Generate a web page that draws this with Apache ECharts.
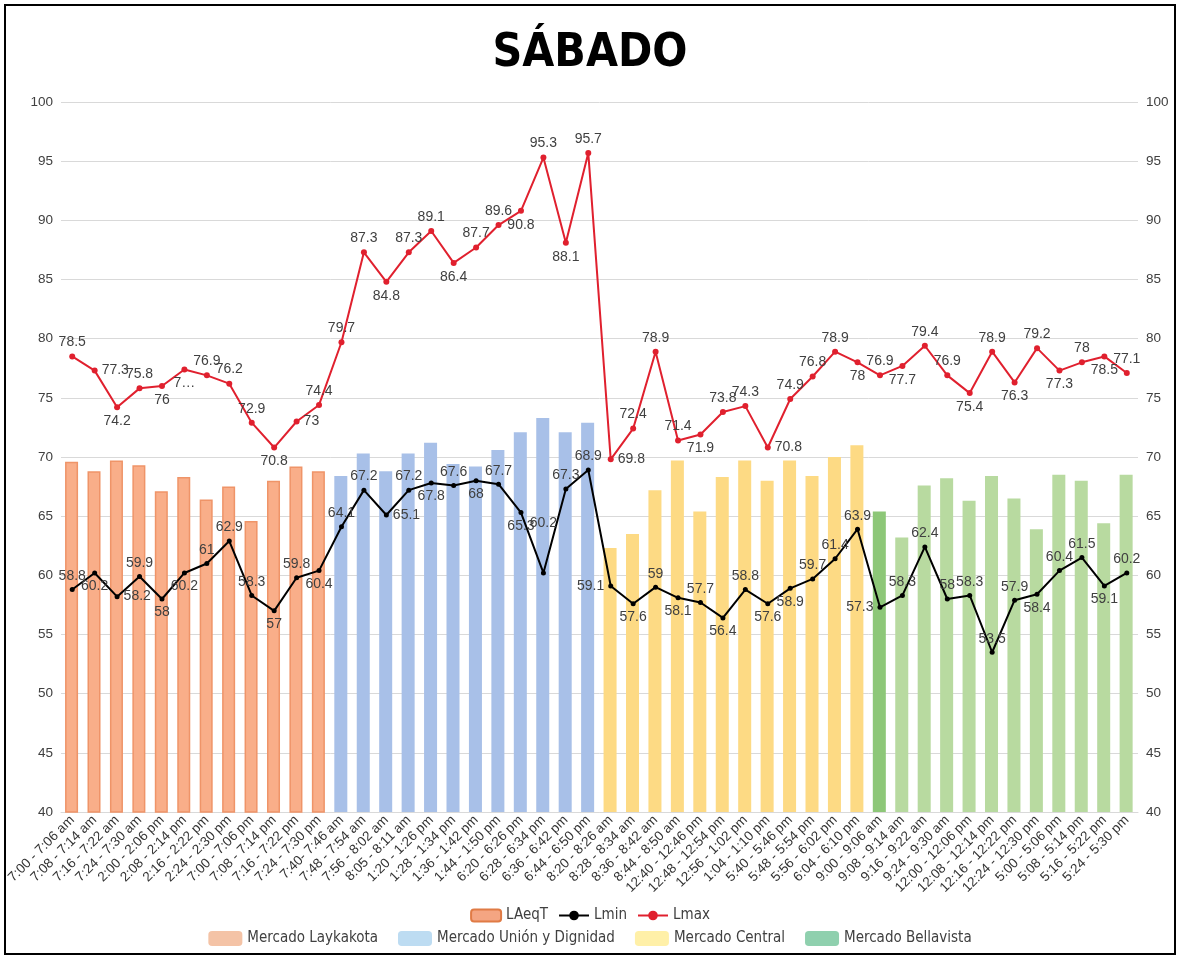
<!DOCTYPE html>
<html>
<head>
<meta charset="utf-8">
<script src="https://cdn.jsdelivr.net/npm/echarts@6/dist/echarts.min.js"></script>
<style>
html,body{margin:0;padding:0;background:#fff;}
#frame{position:absolute;left:4px;top:4px;width:1168px;height:947px;border:2px solid #000;}
#chart{position:absolute;left:0;top:0;width:1180px;height:959px;}
</style>
</head>
<body>
<div id="frame"></div>
<div id="chart"></div>
<script>
const categories = [
  '7:00 - 7:06 am','7:08 - 7:14 am','7:16 - 7:22 am','7:24 - 7:30 am','2:00 - 2:06 pm','2:08 - 2:14 pm',
  '2:16 - 2:22 pm','2:24 - 2:30 pm','7:00 - 7:06 pm','7:08 - 7:14 pm','7:16 - 7:22 pm','7:24 - 7:30 pm',
  '7:40- 7:46 am','7:48 - 7:54 am','7:56 - 8:02 am','8:05 - 8:11 am','1:20 - 1:26 pm','1:28 - 1:34 pm',
  '1:36 - 1:42 pm','1:44 - 1:50 pm','6:20 - 6:26 pm','6:28 - 6:34 pm','6:36 - 6:42 pm','6:44 - 6:50 pm',
  '8:20 - 8:26 am','8:28 - 8:34 am','8:36 - 8:42 am','8:44 - 8:50 am','12:40 - 12:46 pm','12:48 - 12:54 pm',
  '12:56 - 1:02 pm','1:04 - 1:10 pm','5:40 - 5:46 pm','5:48 - 5:54 pm','5:56 - 6:02 pm','6:04 - 6:10 pm',
  '9:00 - 9:06 am','9:08 - 9:14 am','9:16 - 9:22 am','9:24 - 9:30 am','12:00 - 12:06 pm','12:08 - 12:14 pm',
  '12:16 - 12:22 pm','12:24 - 12:30 pm','5:00 - 5:06 pm','5:08 - 5:14 pm','5:16 - 5:22 pm','5:24 - 5:30 pm'
];
const markets = ['Mercado Laykakota','Mercado Unión y Dignidad','Mercado Central','Mercado Bellavista'];
const marketSizes = [12, 12, 12, 12];
const LAeqT = [
  69.6, 68.8, 69.7, 69.3, 67.1, 68.3, 66.4, 67.5, 64.6, 68.0, 69.2, 68.8,
  68.4, 70.3, 68.8, 70.3, 71.2, 69.4, 69.2, 70.6, 72.1, 73.3, 72.1, 72.9,
  62.3, 63.5, 67.2, 69.7, 65.4, 68.3, 69.7, 68.0, 69.7, 68.4, 70.0, 71.0,
  65.4, 63.2, 67.6, 68.2, 66.3, 68.4, 66.5, 63.9, 68.5, 68.0, 64.4, 68.5
];
const Lmin = [
  58.8, 60.2, 58.2, 59.9, 58, 60.2, 61, 62.9, 58.3, 57, 59.8, 60.4,
  64.1, 67.2, 65.1, 67.2, 67.8, 67.6, 68, 67.7, 65.3, 60.2, 67.3, 68.9,
  59.1, 57.6, 59, 58.1, 57.7, 56.4, 58.8, 57.6, 58.9, 59.7, 61.4, 63.9,
  57.3, 58.3, 62.4, 58, 58.3, 53.5, 57.9, 58.4, 60.4, 61.5, 59.1, 60.2
];
const Lmax = [
  78.5, 77.3, 74.2, 75.8, 76, 77.4, 76.9, 76.2, 72.9, 70.8, 73, 74.4,
  79.7, 87.3, 84.8, 87.3, 89.1, 86.4, 87.7, 89.6, 90.8, 95.3, 88.1, 95.7,
  69.8, 72.4, 78.9, 71.4, 71.9, 73.8, 74.3, 70.8, 74.9, 76.8, 78.9, 78,
  76.9, 77.7, 79.4, 76.9, 75.4, 78.9, 76.3, 79.2, 77.3, 78, 78.5, 77.1
];
const yTicks = { min: 40, max: 100, interval: 5 };

// label placement (style)
const T='top', B='bottom', L='left', R='right';
const lmaxPos = [T,R,B,T,B,B,T,T,T,B,R,T, T,T,B,T,T,B,T,T,B,T,B,T, R,T,T,T,B,T,T,R,T,T,T,B, T,B,T,T,B,T,B,T,B,T,B,T];
const lminPos = [T,B,R,T,B,B,T,T,T,B,T,B, T,T,R,T,B,T,B,T,B,T,T,T, L,B,T,B,T,B,T,B,B,T,T,T, L,T,T,T,T,T,T,B,T,T,B,T];
const lminOffset = {21: [0, -36]};
const lmaxText = {5: '7…'};

const barFill = ['#F9AE89', '#A8C0E8', '#FDDA84', '#B8DAA0'];
const barBorder = ['#EF9468', '#A8C0E8', '#FDDA84', '#B8DAA0'];
const marketSwatch = ['#F4C3A6', '#BDDCF2', '#FFF0A8', '#8FD0AE'];
function groupOf(i){ let s=0; for(let g=0; g<marketSizes.length; g++){ s+=marketSizes[g]; if(i<s) return g; } return marketSizes.length-1; }

const FONT = 'Liberation Sans, Arial, sans-serif';
const NARROW = '"Liberation Sans Narrow", "DejaVu Sans Condensed", Arial, sans-serif';

const barData = LAeqT.map((v,i)=>{
  const g = groupOf(i);
  let fill = barFill[g];
  if (g===3 && i===36) fill = '#8DC778';
  return { value: v, itemStyle: { color: fill, borderColor: g===0 ? barBorder[g] : fill, borderWidth: g===0?1.5:0 } };
});
const lmaxData = Lmax.map((v,i)=>({ value: v, label: { position: lmaxPos[i] } }));
const lminData = Lmin.map((v,i)=>{
  const lab = { position: lminPos[i] };
  if (lminOffset[i]) lab.offset = lminOffset[i];
  return { value: v, label: lab };
});

const chart = echarts.init(document.getElementById('chart'));
const yAxisCommon = {
  type: 'value', min: yTicks.min, max: yTicks.max, interval: yTicks.interval,
  axisLine: { show: false }, axisTick: { show: false },
  axisLabel: { color: '#404040', fontSize: 13.5, fontFamily: FONT }
};
chart.setOption({
  animation: false,
  title: {
    text: 'SÁBADO', left: 'center', top: 26,
    textStyle: { fontSize: 46, fontWeight: 'bold', color: '#000', fontFamily: NARROW }
  },
  grid: { left: 61, right: 42, top: 102, bottom: 147 },
  legend: [
    {
      data: ['LAeqT','Lmin','Lmax'], top: 903, left: 'center', itemGap: 10, itemWidth: 30, itemHeight: 12,
      textStyle: { color: '#404040', fontSize: 15, fontFamily: NARROW }, selectedMode: false
    },
    {
      data: markets, top: 926, left: 'center', itemGap: 20, itemWidth: 34, itemHeight: 15,
      textStyle: { color: '#404040', fontSize: 15, fontFamily: NARROW }, selectedMode: false
    }
  ],
  xAxis: {
    type: 'category', data: categories,
    axisLine: { lineStyle: { color: '#D9D9D9' } }, axisTick: { show: false },
    axisLabel: { interval: 0, rotate: 45, color: '#333333', fontSize: 13.5, fontFamily: FONT, margin: 6 }
  },
  yAxis: [
    Object.assign({}, yAxisCommon, { position: 'left', splitLine: { lineStyle: { color: '#D9D9D9' } } }),
    Object.assign({}, yAxisCommon, { position: 'right', splitLine: { show: false } })
  ],
  series: [
    {
      name: 'LAeqT', type: 'bar', data: barData, barWidth: '58%',
      itemStyle: { color: '#F4A582', borderColor: '#E07B45', borderWidth: 1 }, z: 1
    },
    {
      name: 'Lmin', type: 'line', data: lminData, symbol: 'circle', symbolSize: 5,
      lineStyle: { color: '#000', width: 2 }, itemStyle: { color: '#000' }, z: 3,
      label: { show: true, color: '#404040', fontSize: 14, fontFamily: FONT, distance: 4 }
    },
    {
      name: 'Lmax', type: 'line', data: lmaxData, symbol: 'circle', symbolSize: 6,
      lineStyle: { color: '#E0202E', width: 2 }, itemStyle: { color: '#E0202E' }, z: 3,
      label: { show: true, color: '#404040', fontSize: 14, fontFamily: FONT, distance: 4,
        formatter: p => (lmaxText[p.dataIndex] !== undefined ? lmaxText[p.dataIndex] : String(p.value)) }
    },
    ...markets.map((m,g)=>({ name: m, type: 'bar', data: [], itemStyle: { color: marketSwatch[g] } }))
  ]
});
</script>
</body>
</html>
